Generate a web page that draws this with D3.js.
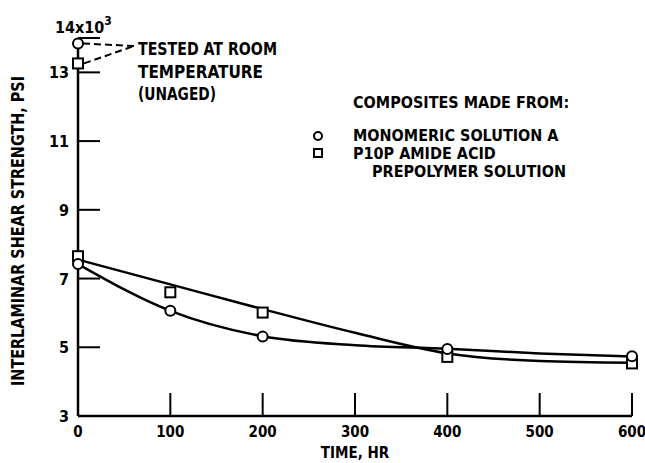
<!DOCTYPE html>
<html>
<head>
<meta charset="utf-8">
<script src="https://cdn.jsdelivr.net/npm/d3@7"></script>
<style>
  body { margin: 0; background: #fff; }
  text { font-family: "Liberation Sans Narrow", "DejaVu Sans Condensed", "Roboto", sans-serif; font-weight: bold; fill: #000; }
</style>
</head>
<body>
<div id="chart"></div>
<script>
// measured points
const timeHr = [0, 100, 200, 400, 600];
const monomeric = [7.42, 6.06, 5.31, 4.95, 4.74];
const p10p = [7.65, 6.6, 6.01, 4.72, 4.53];

// room temperature (unaged) points at time 0
const roomMonomeric = [13.84];
const roomP10p = [13.26];

// faired curves as drawn on the figure
const curveHr = [0, 100, 200, 300, 400, 500, 600];
const monoCurve = [7.42, 6.06, 5.32, 5.06, 4.96, 4.82, 4.73];
const p10pCurve = [7.55, 6.83, 6.11, 5.42, 4.82, 4.6, 4.55];

// ticks
const xTicks = [100, 200, 300, 400, 500, 600];
const xTickLabels = [0, 100, 200, 300, 400, 500, 600];
const yTicks = [5, 7, 9, 11, 13, 14];
const yTickLabels = [3, 5, 7, 9, 11, 13];

const width = 645;
const height = 463;

const svg = d3.select("#chart")
  .append("svg")
  .attr("width", width)
  .attr("height", height);

const x = d3.scaleLinear()
  .domain([0, 600])
  .range([78, 632]);

const y = d3.scaleLinear()
  .domain([3, 14])
  .range([416, 38]);

// axes lines
svg.append("line")
  .attr("x1", x(0)).attr("x2", x(600))
  .attr("y1", y(3)).attr("y2", y(3))
  .attr("stroke", "#000").attr("stroke-width", 2.5);

svg.append("line")
  .attr("x1", x(0)).attr("x2", x(0))
  .attr("y1", y(3)).attr("y2", y(14))
  .attr("stroke", "#000").attr("stroke-width", 2.5);

// inward ticks
svg.selectAll(".xtick")
  .data(xTicks).enter()
  .append("line")
  .attr("x1", d => x(d)).attr("x2", d => x(d))
  .attr("y1", y(3)).attr("y2", y(3) - 23)
  .attr("stroke", "#000").attr("stroke-width", 2);

svg.selectAll(".ytick")
  .data(yTicks).enter()
  .append("line")
  .attr("x1", x(0)).attr("x2", x(0) + 22)
  .attr("y1", d => y(d)).attr("y2", d => y(d))
  .attr("stroke", "#000").attr("stroke-width", 2);

// tick labels
svg.selectAll(".xlabel")
  .data(xTickLabels).enter()
  .append("text")
  .attr("x", d => x(d))
  .attr("y", y(3) + 21)
  .attr("text-anchor", "middle")
  .attr("font-size", 15)
  .text(d => d);

svg.selectAll(".ylabel")
  .data(yTickLabels).enter()
  .append("text")
  .attr("x", x(0) - 9)
  .attr("y", d => y(d) + 6)
  .attr("text-anchor", "end")
  .attr("font-size", 16)
  .text(d => d);

const topLabel = svg.append("text")
  .attr("x", 55)
  .attr("y", 33)
  .attr("font-size", 16)
  .text("14x10");
topLabel.append("tspan")
  .attr("font-size", 12)
  .attr("dy", -8)
  .text("3");

// axis titles
svg.append("text")
  .attr("x", 355)
  .attr("y", 458)
  .attr("text-anchor", "middle")
  .attr("font-size", 15)
  .text("TIME, HR");

svg.append("text")
  .attr("transform", "rotate(-90)")
  .attr("x", -231)
  .attr("y", 24)
  .attr("text-anchor", "middle")
  .attr("font-size", 17)
  .attr("textLength", 310)
  .attr("lengthAdjust", "spacingAndGlyphs")
  .text("INTERLAMINAR SHEAR STRENGTH, PSI");

// curves
const line = d3.line()
  .x(d => x(d[0]))
  .y(d => y(d[1]))
  .curve(d3.curveMonotoneX);

svg.append("path")
  .attr("d", line(d3.zip(curveHr, monoCurve)))
  .attr("fill", "none")
  .attr("stroke", "#000")
  .attr("stroke-width", 2.5);

svg.append("path")
  .attr("d", line(d3.zip(curveHr, p10pCurve)))
  .attr("fill", "none")
  .attr("stroke", "#000")
  .attr("stroke-width", 2.5);

// annotation leader lines
svg.append("line")
  .attr("x1", x(0) + 5).attr("y1", y(roomMonomeric[0]))
  .attr("x2", 134).attr("y2", 46)
  .attr("stroke", "#000").attr("stroke-width", 2)
  .attr("stroke-dasharray", "7,4");

svg.append("line")
  .attr("x1", x(0) + 6).attr("y1", y(roomP10p[0]))
  .attr("x2", 134).attr("y2", 46)
  .attr("stroke", "#000").attr("stroke-width", 2)
  .attr("stroke-dasharray", "7,4");

const notes = ["TESTED AT ROOM", "TEMPERATURE", "(UNAGED)"];
const noteLengths = [139, 125, 78];
svg.selectAll(".note")
  .data(notes).enter()
  .append("text")
  .attr("x", 138)
  .attr("y", (d, i) => 55 + i * 22.5)
  .attr("font-size", 17)
  .attr("textLength", (d, i) => noteLengths[i])
  .attr("lengthAdjust", "spacingAndGlyphs")
  .text(d => d);

// markers
const squareSize = 10;

function drawCircles(xs, ys) {
  svg.append("g")
    .selectAll("circle")
    .data(d3.zip(xs, ys)).enter()
    .append("circle")
    .attr("cx", d => x(d[0]))
    .attr("cy", d => y(d[1]))
    .attr("r", 5)
    .attr("fill", "#fff")
    .attr("stroke", "#000")
    .attr("stroke-width", 2);
}

function drawSquares(xs, ys) {
  svg.append("g")
    .selectAll("rect")
    .data(d3.zip(xs, ys)).enter()
    .append("rect")
    .attr("x", d => x(d[0]) - squareSize / 2)
    .attr("y", d => y(d[1]) - squareSize / 2)
    .attr("width", squareSize)
    .attr("height", squareSize)
    .attr("fill", "#fff")
    .attr("stroke", "#000")
    .attr("stroke-width", 2);
}

drawSquares(timeHr, p10p);
drawCircles(timeHr, monomeric);
drawSquares([0], roomP10p);
drawCircles([0], roomMonomeric);

// legend
svg.append("text")
  .attr("x", 353)
  .attr("y", 108)
  .attr("font-size", 16)
  .text("COMPOSITES MADE FROM:");

svg.append("circle")
  .attr("cx", 318).attr("cy", 136)
  .attr("r", 4)
  .attr("fill", "#fff").attr("stroke", "#000").attr("stroke-width", 2);

svg.append("rect")
  .attr("x", 314).attr("y", 149)
  .attr("width", 8).attr("height", 8)
  .attr("fill", "#fff").attr("stroke", "#000").attr("stroke-width", 2);

svg.append("text")
  .attr("x", 353).attr("y", 141)
  .attr("font-size", 16)
  .text("MONOMERIC SOLUTION A");

svg.append("text")
  .attr("x", 353).attr("y", 159)
  .attr("font-size", 16)
  .text("P10P AMIDE ACID");

svg.append("text")
  .attr("x", 372).attr("y", 177)
  .attr("font-size", 16)
  .text("PREPOLYMER SOLUTION");
</script>
</body>
</html>
